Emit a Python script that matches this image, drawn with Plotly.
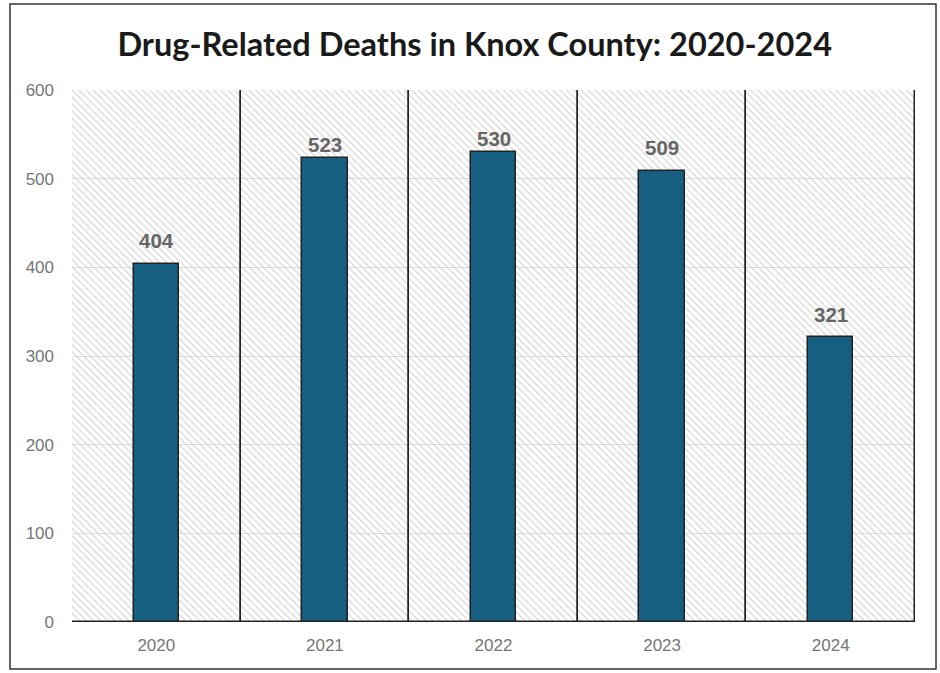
import plotly.graph_objects as go

years = ["2020", "2021", "2022", "2023", "2024"]
deaths = [404, 523, 530, 509, 321]
y_ticks = [0, 100, 200, 300, 400, 500, 600]
title_text = "Drug-Related Deaths in Knox County: 2020-2024"

# vertical pixel offset of each value label above its bar (style, as in reference)
label_shift_px = [23, 14, 14, 23, 23]

y_max = y_ticks[-1]
bar_color = "#175f80"
label_color = "#666666"
tick_color = "#757575"

fig = go.Figure()

# hatched background panels (one per category) with black separators
fig.add_trace(go.Bar(
    x=years, y=[y_max] * len(years), width=1,
    marker=dict(
        color="rgba(0,0,0,0)",
        line=dict(color="#222222", width=1.5),
        pattern=dict(shape="\\", fillmode="replace", bgcolor="rgba(0,0,0,0)",
                     fgcolor="#d4d4d4", size=5, solidity=0.22),
    ),
    hoverinfo="skip", showlegend=False,
))

fig.add_trace(go.Bar(
    x=years, y=deaths, width=0.27,
    marker=dict(color=bar_color, line=dict(color="#222222", width=1.5)),
    showlegend=False,
))

for i, (v, s) in enumerate(zip(deaths, label_shift_px)):
    fig.add_annotation(x=i, y=v, xref="x", yref="y", text=f"<b>{v}</b>",
                       showarrow=False, yshift=s,
                       font=dict(family="Liberation Sans", size=20.5, color=label_color))

fig.update_layout(
    width=940, height=673,
    margin=dict(l=72, r=25, t=90, b=51),
    paper_bgcolor="white", plot_bgcolor="white",
    barmode="overlay", bargap=0,
    title=dict(text=f"<b>{title_text}</b>", x=0.505, xanchor="center",
               y=1 - 45 / 673, yanchor="middle",
               font=dict(family="Lato", size=32.5, color="#1a1a1a")),
    font=dict(family="Liberation Sans"),
)
fig.update_xaxes(type="category", range=[-0.5, len(years) - 0.5],
                 showgrid=False, showline=False, zeroline=False,
                 tickfont=dict(size=17, color=tick_color), ticks="",
                 ticklabelstandoff=11, fixedrange=True)
fig.update_yaxes(range=[0, y_max], tickvals=y_ticks, showgrid=True,
                 gridcolor="#dcdcdc", gridwidth=1, zeroline=False, showline=False,
                 tickfont=dict(size=17, color=tick_color), ticks="",
                 ticklabelstandoff=17, fixedrange=True)

# outer frame
fig.add_shape(type="rect", xref="paper", yref="paper",
              x0=(10 - 72) / 843, x1=(936 - 72) / 843,
              y0=(622 - 669) / 532, y1=(622 - 4) / 532,
              line=dict(color="#333333", width=1.5), fillcolor="rgba(0,0,0,0)", layer="below")

fig.write_html("out.html", config={"displayModeBar": False},
               post_script="document.body.style.margin='0';document.body.style.overflow='hidden';")
